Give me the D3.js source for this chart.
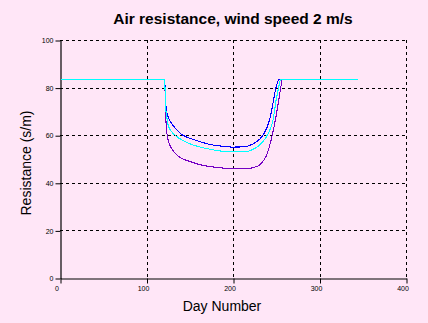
<!DOCTYPE html>
<html><head><meta charset="utf-8">
<script src="https://cdn.jsdelivr.net/npm/d3@7"></script>
<style>
html,body{margin:0;padding:0;background:#ffe6f7;}
svg{display:block;}
text{font-family:Arial,"Liberation Sans",sans-serif;}
</style></head>
<body><svg id="c" width="428" height="323"></svg>
<script>
const title = "Air resistance, wind speed 2 m/s";
const xLabel = "Day Number";
const yLabel = "Resistance (s/m)";
const xTicks = [0, 100, 200, 300, 400];
const yTicks = [0, 20, 40, 60, 80, 100];
const days = [1, 121, 122, 123, 125, 129, 135, 142, 150, 160, 172, 185, 200, 215, 220, 227, 231, 235, 239, 243, 246, 250, 253, 255, 257, 344];
const seriesPurple = [83.3, 83.3, 70, 63, 58, 54.5, 51.7, 50, 49, 47.8, 46.9, 46.3, 46, 46, 46.1, 46.8, 47.5, 49.2, 51.7, 56.5, 61, 68.5, 75, 79.5, 83.3, 83.3];
const seriesBlue = [83.3, 83.3, 75, 70.6, 67.8, 65, 62.2, 60, 58.7, 57.5, 56.2, 55.5, 55, 55.2, 55.8, 57.2, 58.4, 60.2, 63, 67.5, 73, 80.5, 83.3, 83.3, 83.3, 83.3];
const seriesCyan = [83.3, 83.3, 72, 69, 64.3, 61.5, 59.4, 57.8, 56.4, 55.2, 54.2, 53.4, 53, 53, 53.6, 54.8, 55.9, 57.5, 59.6, 62.5, 66, 75, 80.5, 83.3, 83.3, 83.3];
const seriesColors = ["#7400c4", "#0000ff", "#00ffff"];

const svg = d3.select("#c");
const x = d3.scaleLinear().domain([0, 400]).range([60, 406]);
const y = d3.scaleLinear().domain([0, 100]).range([278, 40]);

// grid
const g = svg.append("g");
g.selectAll(".vg").data(xTicks.filter(d => d > 0)).enter().append("line")
  .attr("x1", d => x(d) + 0.5).attr("x2", d => x(d) + 0.5)
  .attr("y1", y(100)).attr("y2", y(0))
  .attr("stroke", "#000").attr("stroke-width", 1).attr("stroke-dasharray", "3,3")
  .attr("shape-rendering", "crispEdges");
g.selectAll(".hg").data(yTicks.filter(d => d > 0)).enter().append("line")
  .attr("x1", x(0)).attr("x2", x(400))
  .attr("y1", d => y(d) + 0.5).attr("y2", d => y(d) + 0.5)
  .attr("stroke", "#000").attr("stroke-width", 1).attr("stroke-dasharray", "3,3")
  .attr("shape-rendering", "crispEdges");

// axes
const yAxis = d3.axisLeft(y).tickValues(yTicks).tickSize(5).tickSizeOuter(0).tickPadding(2);
const xAxis = d3.axisBottom(x).tickValues(xTicks).tickSize(5).tickSizeOuter(0).tickPadding(3);
const ya = svg.append("g").attr("transform", "translate(60.5,0.5)").call(yAxis);
const xa = svg.append("g").attr("transform", "translate(0.5,278.5)").call(xAxis);
[ya, xa].forEach(a => {
  a.select(".domain").attr("stroke", "#000").attr("stroke-width", 1.2);
  a.selectAll(".tick line").attr("stroke", "#000");
  a.selectAll("text").attr("font-size", "7px").attr("fill", "#000").attr("font-family", "Arial, 'Liberation Sans', sans-serif");
});
xa.selectAll("text").attr("dx", -4);

// lines
const line = d3.line().x((d, i) => x(days[i])).y(d => y(d)).curve(d3.curveMonotoneX);
[seriesPurple, seriesBlue, seriesCyan].forEach((s, k) => {
  svg.append("path").datum(s).attr("d", line)
    .attr("fill", "none").attr("stroke", seriesColors[k]).attr("stroke-width", 1.1)
    .attr("shape-rendering", "crispEdges");
});

// texts
svg.append("text").attr("x", 233).attr("y", 24).attr("text-anchor", "middle")
  .attr("font-size", "15.5px").attr("font-weight", "bold").attr("fill", "#000").text(title);
svg.append("text").attr("x", 222).attr("y", 311).attr("text-anchor", "middle")
  .attr("font-size", "14px").attr("fill", "#000").text(xLabel);
svg.append("text").attr("transform", "translate(31,163) rotate(-90)").attr("text-anchor", "middle")
  .attr("font-size", "14px").attr("fill", "#000").text(yLabel);
</script></body></html>
